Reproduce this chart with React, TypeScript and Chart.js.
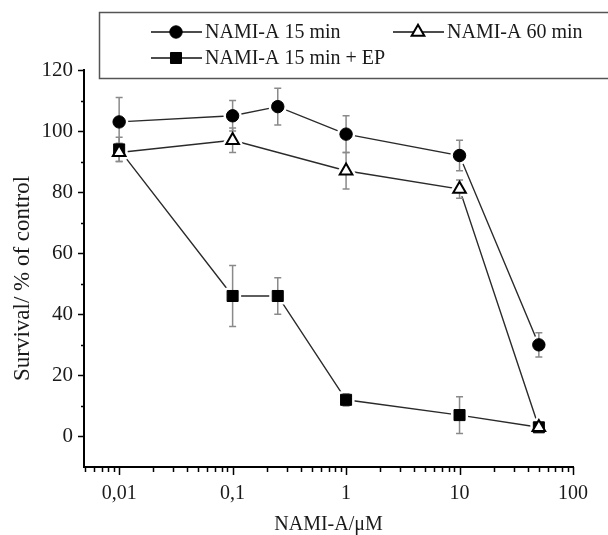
import React, { useEffect, useRef } from 'react';
import { Chart, registerables } from 'chart.js';

Chart.register(...registerables);

// ---- data ----
const concentrations15 = [0.01, 0.1, 0.25, 1, 10, 50];
const nami15 = [103, 105, 108, 99, 92, 30];
const nami15Err = [8, 5, 6, 6, 5, 4];

const concentrations60 = [0.01, 0.1, 1, 10, 50];
const nami60 = [93, 97, 87, 81, 3];
const nami60Err = [3, 4, 6, 3, 1];

const concentrationsEP = [0.01, 0.1, 0.25, 1, 10, 50];
const nami15EP = [94, 46, 46, 12, 7, 3];
const nami15EPErr = [4, 10, 6, 2, 6, 1];

const seriesLabels = ['NAMI-A 15 min', 'NAMI-A 60 min', 'NAMI-A 15 min + EP'];

const xDecades = [0.01, 0.1, 1, 10, 100];
const xDecadeLabels = ['0,01', '0,1', '1', '10', '100'];
const yTicks = [0, 20, 40, 60, 80, 100, 120];

const xTitle = 'NAMI-A/\u03bcM';
const yTitle = 'Survival/ % of control';

const FONT = '"Liberation Serif", "Times New Roman", "DejaVu Serif", serif';
const TEXT = '#1a1a1a';

type Marker = { style: string; radius: number; fill: string; stroke: string; width: number };

function markerPath(ctx: CanvasRenderingContext2D, m: Marker, x: number, y: number) {
  ctx.beginPath();
  if (m.style === 'circle') {
    ctx.arc(x, y, m.radius, 0, Math.PI * 2);
  } else if (m.style === 'rect') {
    const s = Math.SQRT1_2 * m.radius;
    ctx.rect(x - s, y - s, 2 * s, 2 * s);
  } else if (m.style === 'triangle') {
    let rad = 0;
    ctx.moveTo(x + Math.sin(rad) * m.radius, y - Math.cos(rad) * m.radius);
    rad += (2 * Math.PI) / 3;
    ctx.lineTo(x + Math.sin(rad) * m.radius, y - Math.cos(rad) * m.radius);
    rad += (2 * Math.PI) / 3;
    ctx.lineTo(x + Math.sin(rad) * m.radius, y - Math.cos(rad) * m.radius);
    ctx.closePath();
  }
}

function drawMarker(ctx: CanvasRenderingContext2D, m: Marker, x: number, y: number) {
  ctx.save();
  markerPath(ctx, m, x, y);
  ctx.fillStyle = m.fill;
  ctx.fill();
  ctx.lineWidth = m.width;
  ctx.strokeStyle = m.stroke;
  ctx.stroke();
  ctx.restore();
}

export default function App() {
  const ref = useRef<HTMLCanvasElement>(null);

  useEffect(() => {
    const canvas = ref.current;
    if (!canvas) return;

    const markers: Marker[] = [
      { style: 'circle', radius: 6.2, fill: '#000', stroke: '#000', width: 1 },
      { style: 'triangle', radius: 7.3, fill: '#fff', stroke: '#000', width: 2 },
      { style: 'rect', radius: 7.8, fill: '#000', stroke: '#000', width: 1 },
    ];
    const toPts = (xs: number[], ys: number[]) => xs.map((x, i) => ({ x, y: ys[i] }));
    const sets = [
      { xs: concentrations15, ys: nami15, err: nami15Err },
      { xs: concentrations60, ys: nami60, err: nami60Err },
      { xs: concentrationsEP, ys: nami15EP, err: nami15EPErr },
    ];

    // connecting lines (drawn first)
    const lineSets: any[] = sets.map((s, i) => ({
      label: seriesLabels[i],
      kind: 'line',
      data: toPts(s.xs, s.ys),
      borderColor: '#2a2a2a',
      borderWidth: 1.4,
      fill: false,
      tension: 0,
      pointRadius: 0,
      order: 2,
      clip: false,
    }));
    // markers (drawn on top, after the halos and error bars)
    const pointSets: any[] = sets.map((s, i) => ({
      label: seriesLabels[i],
      kind: 'points',
      series: i,
      data: toPts(s.xs, s.ys),
      errors: s.err,
      showLine: false,
      pointStyle: markers[i].style,
      pointRadius: markers[i].radius,
      pointBackgroundColor: markers[i].fill,
      pointBorderColor: markers[i].stroke,
      pointBorderWidth: markers[i].width,
      order: 1,
      clip: false,
    }));
    const datasets = [...lineSets, ...pointSets];

    let decorated = false;
    const haloAndErrors = {
      id: 'haloAndErrors',
      beforeDatasetsDraw() {
        decorated = false;
      },
      beforeDatasetDraw(chart: any, args: any) {
        const ds = chart.data.datasets[args.index];
        if (decorated || ds.kind !== 'points') return;
        decorated = true;
        const ctx = chart.ctx as CanvasRenderingContext2D;
        const xs = chart.scales.x;
        const ys = chart.scales.y;
        ctx.save();
        // white halos: small gaps between the lines and the markers
        chart.data.datasets.forEach((d: any) => {
          if (d.kind !== 'points') return;
          const m = markers[d.series];
          d.data.forEach((pt: any) => {
            const px = xs.getPixelForValue(pt.x);
            const py = ys.getPixelForValue(pt.y);
            markerPath(ctx, m, px, py);
            ctx.fillStyle = '#fff';
            ctx.fill();
            ctx.lineWidth = m.width + 5;
            ctx.strokeStyle = '#fff';
            ctx.lineJoin = 'round';
            ctx.stroke();
          });
        });
        // error bars
        ctx.strokeStyle = '#8a8a8a';
        ctx.lineWidth = 1.5;
        ctx.lineJoin = 'miter';
        chart.data.datasets.forEach((d: any) => {
          if (d.kind !== 'points') return;
          d.errors.forEach((e: number, j: number) => {
            const pt = d.data[j];
            const px = xs.getPixelForValue(pt.x);
            const top = ys.getPixelForValue(pt.y + e);
            const bot = ys.getPixelForValue(pt.y - e);
            ctx.beginPath();
            ctx.moveTo(px, top);
            ctx.lineTo(px, bot);
            ctx.moveTo(px - 3.5, top);
            ctx.lineTo(px + 3.5, top);
            ctx.moveTo(px - 3.5, bot);
            ctx.lineTo(px + 3.5, bot);
            ctx.stroke();
          });
        });
        ctx.restore();
      },
    };

    const axisExtras = {
      id: 'axisExtras',
      afterDraw(chart: any) {
        const ctx = chart.ctx as CanvasRenderingContext2D;
        const xs = chart.scales.x;
        const ys = chart.scales.y;
        const { left, bottom, top } = chart.chartArea;
        ctx.save();
        ctx.strokeStyle = '#000';
        ctx.lineWidth = 1.5;
        ctx.beginPath();
        yTicks.forEach((v) => {
          const py = Math.round(ys.getPixelForValue(v)) + 0.5;
          ctx.moveTo(left - 6, py);
          ctx.lineTo(left, py);
        });
        for (let v = 10; v < 120; v += 20) {
          const py = Math.round(ys.getPixelForValue(v)) + 0.5;
          ctx.moveTo(left - 3, py);
          ctx.lineTo(left, py);
        }
        xDecades.forEach((v) => {
          const px = Math.round(xs.getPixelForValue(v)) + 0.5;
          ctx.moveTo(px, bottom);
          ctx.lineTo(px, bottom + 8);
        });
        for (let e = -3; e <= 1; e++) {
          for (let m = 2; m <= 9; m++) {
            const v = m * Math.pow(10, e);
            if (v < xs.min || v > xs.max) continue;
            const px = Math.round(xs.getPixelForValue(v)) + 0.5;
            ctx.moveTo(px, bottom);
            ctx.lineTo(px, bottom + 5);
          }
        }
        ctx.stroke();

        // y-axis title (placed like the reference, slightly below the axis centre)
        ctx.fillStyle = TEXT;
        ctx.font = `23px ${FONT}`;
        ctx.textAlign = 'center';
        ctx.textBaseline = 'middle';
        ctx.translate(23, (top + bottom) / 2 + 10);
        ctx.rotate(-Math.PI / 2);
        ctx.fillText(yTitle, 0, 0);
        ctx.restore();
      },
    };

    const legendBox = {
      id: 'legendBox',
      afterDraw(chart: any) {
        const ctx = chart.ctx as CanvasRenderingContext2D;
        ctx.save();
        ctx.fillStyle = '#fff';
        ctx.fillRect(99, 12, 530, 66);
        ctx.strokeStyle = '#555';
        ctx.lineWidth = 1.5;
        ctx.strokeRect(99.5, 12.5, 530, 66);
        const spots = [
          { x: 151, y: 32 },
          { x: 393, y: 32 },
          { x: 151, y: 58 },
        ];
        chart.data.datasets.forEach((ds: any) => {
          if (ds.kind !== 'points') return;
          const i = ds.series;
          const s = spots[i];
          ctx.beginPath();
          ctx.strokeStyle = '#111';
          ctx.lineWidth = 1.5;
          ctx.moveTo(s.x, s.y);
          ctx.lineTo(s.x + 51, s.y);
          ctx.stroke();
          drawMarker(ctx, markers[i], s.x + 25, s.y);
          ctx.fillStyle = TEXT;
          ctx.font = `20px ${FONT}`;
          ctx.textBaseline = 'middle';
          ctx.textAlign = 'left';
          ctx.fillText(ds.label, s.x + 54, s.y + 1);
        });
        ctx.restore();
      },
    };

    const chart = new Chart(canvas, {
      type: 'line',
      data: { datasets },
      plugins: [haloAndErrors, axisExtras, legendBox],
      options: {
        animation: false,
        responsive: false,
        layout: { padding: { top: 70, right: 35, left: 0, bottom: 0 } },
        plugins: {
          legend: { display: false },
          tooltip: { enabled: false },
        },
        scales: {
          x: {
            type: 'logarithmic',
            min: 0.0049,
            max: 100,
            afterBuildTicks: (s: any) => {
              s.ticks = xDecades.map((v) => ({ value: v }));
            },
            afterFit: (s: any) => {
              s.height = 68;
            },
            grid: { display: false, drawTicks: false },
            border: { display: true, color: '#000', width: 2 },
            ticks: {
              autoSkip: false,
              maxRotation: 0,
              padding: 15,
              color: TEXT,
              font: { family: FONT, size: 20 },
              callback: (v: any) => {
                const idx = xDecades.findIndex((d) => Math.abs(d - Number(v)) / d < 1e-6);
                return idx >= 0 ? xDecadeLabels[idx] : '';
              },
            },
            title: {
              display: true,
              text: xTitle,
              color: TEXT,
              font: { family: FONT, size: 20, lineHeight: 1 },
              padding: 0,
            },
          },
          y: {
            type: 'linear',
            min: -10,
            max: 120,
            afterBuildTicks: (s: any) => {
              s.ticks = yTicks.map((v) => ({ value: v }));
            },
            afterFit: (s: any) => {
              s.width = 84;
            },
            grid: { display: false, drawTicks: false },
            border: { display: true, color: '#000', width: 2 },
            ticks: {
              padding: 11,
              color: TEXT,
              font: { family: FONT, size: 21 },
              callback: (v: any) => String(v),
            },
            title: { display: false },
          },
        },
      } as any,
    });

    return () => chart.destroy();
  }, []);

  return (
    <div style={{ position: 'fixed', left: 0, top: 0, width: 608, height: 535, background: '#fff' }}>
      <canvas ref={ref} width={608} height={535} style={{ display: 'block' }} />
    </div>
  );
}
